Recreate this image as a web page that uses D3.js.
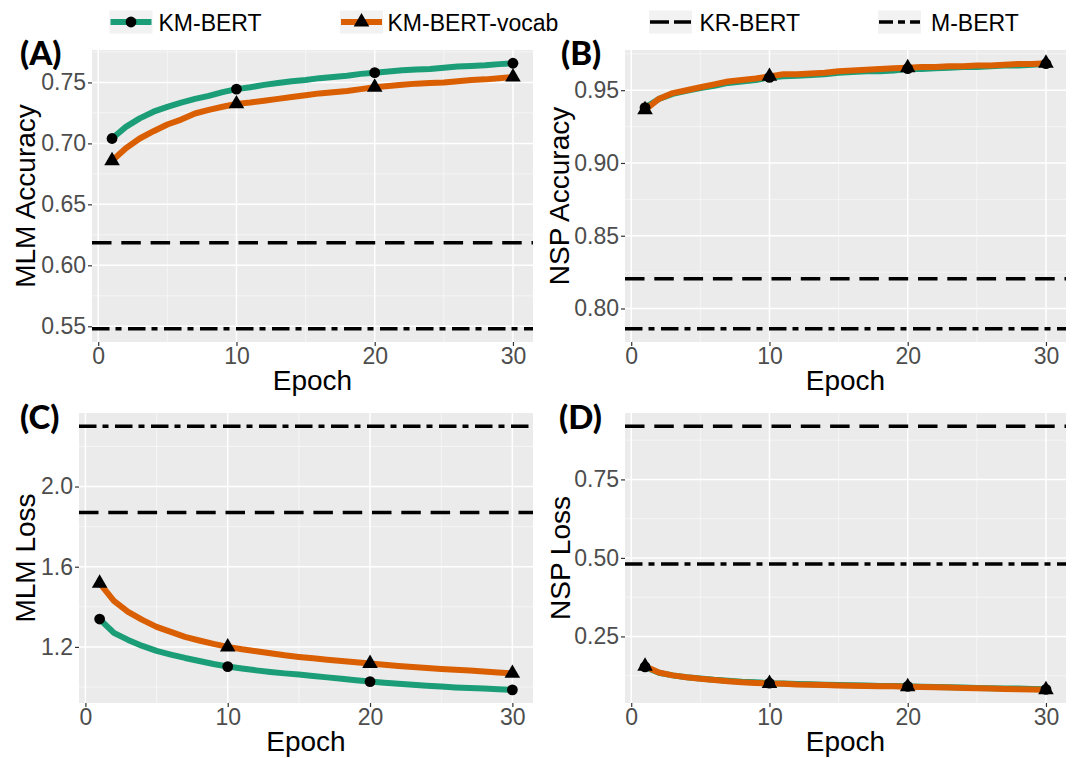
<!DOCTYPE html>
<html>
<head>
<meta charset="utf-8">
<script src="https://cdn.jsdelivr.net/npm/d3@7"></script>
<style>
	body { margin: 0; background: #fff; }
	svg { display: block; font-family: "Liberation Sans", Arial, sans-serif; }
</style>
</head>
<body>
<div id="chart"></div>
<script>
// epochs on the x axis
var epochs = [1, 2, 3, 4, 5, 6, 7, 8, 9, 10, 11, 12, 13, 14, 15, 16, 17, 18, 19, 20, 21, 22, 23, 24, 25, 26, 27, 28, 29, 30];
var markerEpochs = [1, 10, 20, 30];
var xTicks = [0, 10, 20, 30];
var xMinor = [5, 15, 25];

// (A) MLM accuracy
var mlmAccKm = [0.704, 0.7135, 0.7205, 0.726, 0.730, 0.7335, 0.7365, 0.739, 0.742, 0.7445, 0.746, 0.748, 0.7495, 0.751, 0.752, 0.7535, 0.7545, 0.7555, 0.757, 0.758, 0.759, 0.760, 0.7605, 0.761, 0.762, 0.763, 0.7635, 0.764, 0.765, 0.7657];
var mlmAccVocab = [0.6857, 0.696, 0.704, 0.710, 0.7155, 0.7195, 0.7245, 0.7275, 0.730, 0.7324, 0.7335, 0.735, 0.7365, 0.738, 0.7395, 0.741, 0.742, 0.743, 0.7445, 0.7461, 0.747, 0.748, 0.749, 0.7495, 0.750, 0.751, 0.752, 0.7525, 0.7535, 0.7544];

// (B) NSP accuracy
var nspAccKm = [0.938, 0.944, 0.9475, 0.9495, 0.9515, 0.953, 0.955, 0.956, 0.957, 0.9588, 0.9595, 0.960, 0.9605, 0.961, 0.962, 0.9625, 0.963, 0.963, 0.9635, 0.9648, 0.9645, 0.965, 0.9655, 0.966, 0.966, 0.9665, 0.967, 0.967, 0.9675, 0.9682];
var nspAccVocab = [0.9365, 0.944, 0.948, 0.950, 0.952, 0.954, 0.956, 0.957, 0.958, 0.9595, 0.961, 0.961, 0.9615, 0.962, 0.963, 0.9635, 0.964, 0.9645, 0.965, 0.9655, 0.966, 0.966, 0.9665, 0.9665, 0.967, 0.967, 0.9675, 0.968, 0.968, 0.9685];

// (C) MLM loss
var mlmLossKm = [1.339, 1.27, 1.235, 1.205, 1.18, 1.162, 1.145, 1.13, 1.115, 1.102, 1.092, 1.083, 1.075, 1.068, 1.062, 1.055, 1.048, 1.041, 1.034, 1.027, 1.021, 1.016, 1.011, 1.006, 1.002, 0.998, 0.995, 0.992, 0.989, 0.986];
var mlmLossVocab = [1.518, 1.43, 1.375, 1.335, 1.30, 1.275, 1.25, 1.232, 1.215, 1.200, 1.188, 1.178, 1.168, 1.158, 1.150, 1.143, 1.136, 1.130, 1.123, 1.117, 1.111, 1.105, 1.100, 1.095, 1.090, 1.086, 1.082, 1.077, 1.072, 1.068];

// (D) NSP loss
var nspLossKm = [0.153, 0.134, 0.126, 0.120, 0.116, 0.112, 0.109, 0.106, 0.104, 0.101, 0.100, 0.0985, 0.0975, 0.0965, 0.0955, 0.0945, 0.0935, 0.0925, 0.092, 0.091, 0.090, 0.089, 0.088, 0.087, 0.086, 0.085, 0.0845, 0.084, 0.083, 0.0815];
var nspLossVocab = [0.155, 0.135, 0.126, 0.120, 0.115, 0.111, 0.107, 0.104, 0.102, 0.100, 0.099, 0.097, 0.096, 0.095, 0.094, 0.093, 0.092, 0.0915, 0.091, 0.090, 0.089, 0.088, 0.087, 0.086, 0.085, 0.084, 0.083, 0.082, 0.081, 0.080];

// reference models, one value per panel (A, B, C, D)
var krBert = [0.6185, 0.8204, 1.871, 0.9195];
var mBert = [0.548, 0.7861, 2.301, 0.481];

// y tick labels per panel
var yTicksA = [0.55, 0.60, 0.65, 0.70, 0.75];
var yTicksB = [0.80, 0.85, 0.90, 0.95];
var yTicksC = [1.2, 1.6, 2.0];
var yTicksD = [0.25, 0.50, 0.75];

var legendNames = ["KM-BERT", "KM-BERT-vocab", "KR-BERT", "M-BERT"];

// colours
var green = "#1B9E77", orange = "#D95F02";

var svg = d3.select("#chart").append("svg")
	.attr("width", 1072)
	.attr("height", 758);

// panel layout
var panels = [
	{label: "(A)", lx: 20, ly: 65, title: "MLM Accuracy", tx: 35, left: 92, top: 50, right: 533, bottom: 342,
	 km: mlmAccKm, vocab: mlmAccVocab, kr: krBert[0], mb: mBert[0], ticks: yTicksA, fmt: ".2f"},
	{label: "(B)", lx: 561, ly: 65, title: "NSP Accuracy", tx: 569, left: 625, top: 50, right: 1066, bottom: 342,
	 km: nspAccKm, vocab: nspAccVocab, kr: krBert[1], mb: mBert[1], ticks: yTicksB, fmt: ".2f"},
	{label: "(C)", lx: 20, ly: 429, title: "MLM Loss", tx: 35, left: 79, top: 413, right: 533, bottom: 703,
	 km: mlmLossKm, vocab: mlmLossVocab, kr: krBert[2], mb: mBert[2], ticks: yTicksC, fmt: ".1f"},
	{label: "(D)", lx: 559, ly: 429, title: "NSP Loss", tx: 570, left: 625, top: 413, right: 1066, bottom: 703,
	 km: nspLossKm, vocab: nspLossVocab, kr: krBert[3], mb: mBert[3], ticks: yTicksD, fmt: ".2f"}
];

var krDash = "19.5 9.8";
var mbDash = "17.5 6 6 6.5";
var triSize = 105;

panels.forEach(function(p){

	var w = p.right - p.left,
		h = p.bottom - p.top;

	var g = svg.append("g")
		.attr("transform", "translate(" + p.left + "," + p.top + ")");

	// ggplot style 5% expansion
	var ext = d3.extent(p.km.concat(p.vocab, [p.kr, p.mb]));
	var pad = (ext[1] - ext[0]) * 0.05;
	var xPad = (epochs[epochs.length - 1] - epochs[0]) * 0.05;

	var x = d3.scaleLinear()
		.domain([epochs[0] - xPad, epochs[epochs.length - 1] + xPad])
		.range([0, w]);

	var y = d3.scaleLinear()
		.domain([ext[0] - pad, ext[1] + pad])
		.range([h, 0]);

	// background
	g.append("rect")
		.attr("width", w)
		.attr("height", h)
		.attr("fill", "#EBEBEB");

	// minor grid
	var step = p.ticks[1] - p.ticks[0];
	var yMinor = p.ticks.map(function(t){ return t - step / 2; })
		.concat([p.ticks[p.ticks.length - 1] + step / 2])
		.filter(function(t){ return t > y.domain()[0] && t < y.domain()[1]; });

	g.selectAll(".minor-y").data(yMinor).enter().append("line")
		.attr("x1", 0).attr("x2", w)
		.attr("y1", function(d){ return y(d); })
		.attr("y2", function(d){ return y(d); })
		.attr("stroke", "#F7F7F7")
		.attr("stroke-width", 0.8);

	g.selectAll(".minor-x").data(xMinor).enter().append("line")
		.attr("y1", 0).attr("y2", h)
		.attr("x1", function(d){ return x(d); })
		.attr("x2", function(d){ return x(d); })
		.attr("stroke", "#F7F7F7")
		.attr("stroke-width", 0.8);

	// major grid
	g.selectAll(".major-y").data(p.ticks).enter().append("line")
		.attr("x1", 0).attr("x2", w)
		.attr("y1", function(d){ return y(d); })
		.attr("y2", function(d){ return y(d); })
		.attr("stroke", "#fff")
		.attr("stroke-width", 1.5);

	g.selectAll(".major-x").data(xTicks).enter().append("line")
		.attr("y1", 0).attr("y2", h)
		.attr("x1", function(d){ return x(d); })
		.attr("x2", function(d){ return x(d); })
		.attr("stroke", "#fff")
		.attr("stroke-width", 1.5);

	// reference lines
	g.append("line")
		.attr("x1", 0).attr("x2", w)
		.attr("y1", y(p.kr)).attr("y2", y(p.kr))
		.attr("stroke", "#000")
		.attr("stroke-width", 3.5)
		.attr("stroke-dasharray", krDash);

	g.append("line")
		.attr("x1", 0).attr("x2", w)
		.attr("y1", y(p.mb)).attr("y2", y(p.mb))
		.attr("stroke", "#000")
		.attr("stroke-width", 3.5)
		.attr("stroke-dasharray", mbDash);

	// series lines
	var line = d3.line()
		.x(function(d, i){ return x(epochs[i]); })
		.y(function(d){ return y(d); });

	g.append("path")
		.datum(p.km)
		.attr("d", line)
		.attr("fill", "none")
		.attr("stroke", green)
		.attr("stroke-width", 6)
		.attr("stroke-linejoin", "round");

	g.append("path")
		.datum(p.vocab)
		.attr("d", line)
		.attr("fill", "none")
		.attr("stroke", orange)
		.attr("stroke-width", 6)
		.attr("stroke-linejoin", "round");

	// markers
	var kmPts = markerEpochs.map(function(e){ return {e: e, v: p.km[epochs.indexOf(e)]}; });
	var vocabPts = markerEpochs.map(function(e){ return {e: e, v: p.vocab[epochs.indexOf(e)]}; });

	g.selectAll(".pt-km").data(kmPts).enter().append("circle")
		.attr("cx", function(d){ return x(d.e); })
		.attr("cy", function(d){ return y(d.v); })
		.attr("r", 5.4)
		.attr("fill", "#000");

	g.selectAll(".pt-vocab").data(vocabPts).enter().append("path")
		.attr("d", d3.symbol().type(d3.symbolTriangle).size(triSize))
		.attr("transform", function(d){ return "translate(" + x(d.e) + "," + y(d.v) + ")"; })
		.attr("fill", "#000");

	// axes
	var yAxisCall = d3.axisLeft(y)
		.tickValues(p.ticks)
		.tickSize(4)
		.tickPadding(2)
		.tickFormat(d3.format(p.fmt));
	var ya = g.append("g").call(yAxisCall);
	ya.select(".domain").remove();
	ya.selectAll("line").attr("stroke", "#333").attr("stroke-width", 1.2);
	ya.selectAll("text")
		.attr("fill", "#4D4D4D")
		.style("font-size", "23px")
		.style("font-family", "'Liberation Sans', Arial, sans-serif");

	var xAxisCall = d3.axisBottom(x)
		.tickValues(xTicks)
		.tickSize(4)
		.tickPadding(2);
	var xa = g.append("g")
		.attr("transform", "translate(0," + h + ")")
		.call(xAxisCall);
	xa.select(".domain").remove();
	xa.selectAll("line").attr("stroke", "#333").attr("stroke-width", 1.2);
	xa.selectAll("text")
		.attr("fill", "#4D4D4D")
		.style("font-size", "23px")
		.style("font-family", "'Liberation Sans', Arial, sans-serif");

	// x label
	svg.append("text")
		.attr("x", p.left + w / 2)
		.attr("y", p.bottom + 48)
		.attr("text-anchor", "middle")
		.attr("font-size", "28px")
		.attr("fill", "#000")
		.text("Epoch");

	// y label
	svg.append("text")
		.attr("transform", "translate(" + p.tx + "," + (p.top + h / 2) + ") rotate(-90)")
		.attr("text-anchor", "middle")
		.attr("font-size", "28px")
		.attr("fill", "#000")
		.text(p.title);

	// panel letter
	svg.append("text")
		.attr("x", p.lx)
		.attr("y", p.ly)
		.attr("font-family", "Lato, 'Open Sans', sans-serif")
		.attr("font-weight", 900)
		.attr("font-size", "33px")
		.attr("fill", "#000")
		.text(p.label);
});

// legend
var legendKeyX = [109.5, 340, 649, 878];
var legendTextX = [158.5, 387.5, 699.5, 931];

var legend = svg.append("g");

legendNames.forEach(function(name, i){

	var row = legend.append("g")
		.attr("transform", "translate(" + legendKeyX[i] + ",10.5)");

	row.append("rect")
		.attr("width", 43)
		.attr("height", 23)
		.attr("fill", "#F2F2F2");

	var key = row.append("line")
		.attr("x1", 1).attr("x2", 42)
		.attr("y1", 11.5).attr("y2", 11.5)
		.attr("stroke", "#000");

	if (i == 0) {
		key.attr("stroke", green).attr("stroke-width", 6);
		row.append("circle").attr("cx", 21.5).attr("cy", 11.5).attr("r", 5.4).attr("fill", "#000");
	} else if (i == 1) {
		key.attr("stroke", orange).attr("stroke-width", 6);
		row.append("path")
			.attr("d", d3.symbol().type(d3.symbolTriangle).size(triSize))
			.attr("transform", "translate(21.5,11.5)")
			.attr("fill", "#000");
	} else if (i == 2) {
		key.attr("stroke-width", 3.5).attr("stroke-dasharray", "19 5");
	} else {
		key.attr("stroke-width", 3.5).attr("stroke-dasharray", "14 5 7 5 14");
	}

	svg.append("text")
		.attr("x", legendTextX[i])
		.attr("y", 30.5)
		.attr("font-size", "23px")
		.attr("fill", "#000")
		.text(name);
});
</script>
</body>
</html>
